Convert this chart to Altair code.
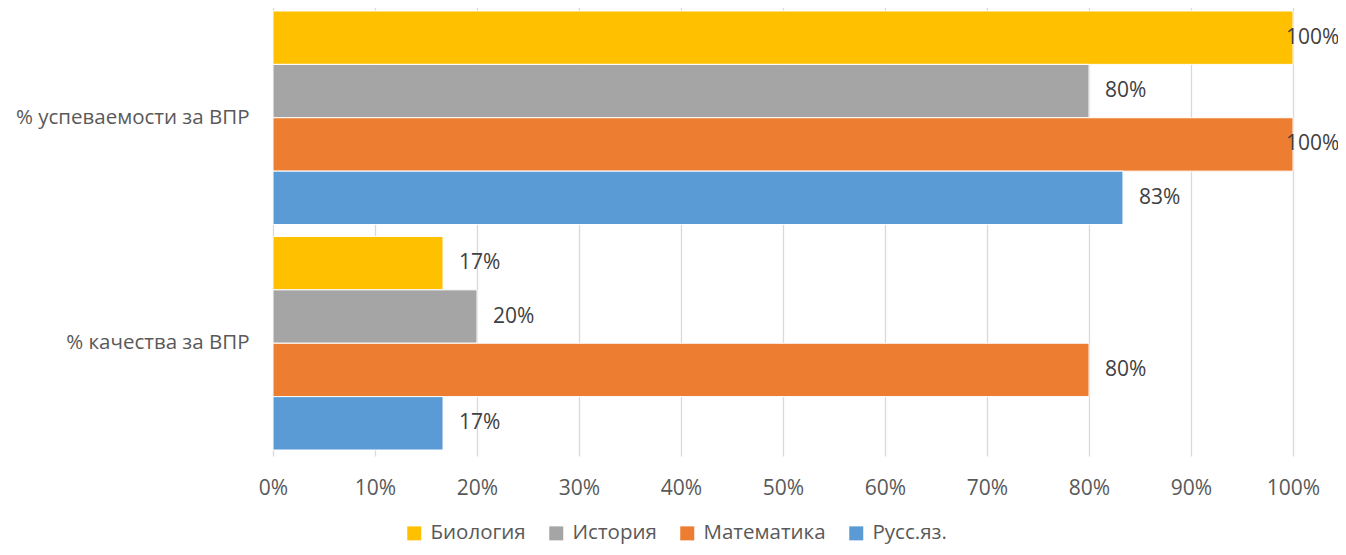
import altair as alt
import pandas as pd

categories = ["% успеваемости за ВПР", "% качества за ВПР"]
subjects = ["Биология", "История", "Математика", "Русс.яз."]
colors = ["#FFC000", "#A5A5A5", "#ED7D31", "#5B9BD5"]
values = {
    "Биология": [1.0, 0.1667],
    "История": [0.80, 0.20],
    "Математика": [1.0, 0.80],
    "Русс.яз.": [0.8333, 0.1667],
}
ticks = [0, 0.1, 0.2, 0.3, 0.4, 0.5, 0.6, 0.7, 0.8, 0.9, 1.0]

rows = []
for s in subjects:
    for c, v in zip(categories, values[s]):
        rows.append({"cat": c, "subj": s, "v": v})
df = pd.DataFrame(rows)

FONT = "Open Sans"
FS = 21

y_enc = alt.Y("cat:N", sort=categories, title=None,
              scale=alt.Scale(paddingInner=0.053, paddingOuter=0.0266),
              axis=alt.Axis(labelFontSize=20.5, labelColor="#595959", labelFont=FONT,
                            labelPadding=24, labelLimit=400, ticks=False, domain=False, grid=False))
yoff = alt.YOffset("subj:N", sort=subjects, scale=alt.Scale(paddingInner=0, paddingOuter=0))
x_enc = alt.X("v:Q", title=None,
              scale=alt.Scale(domain=[0, 1], nice=False),
              axis=alt.Axis(values=ticks, format=".0%", labelFontSize=FS, labelColor="#595959",
                            labelFont=FONT, labelPadding=21, labelFlush=False, ticks=False,
                            domain=False, grid=True, gridColor="#D9D9D9", gridWidth=1.3))

base = alt.Chart(df)

bars = base.mark_bar(stroke="white", strokeWidth=1).encode(
    x=x_enc,
    y=y_enc,
    yOffset=yoff,
    color=alt.Color("subj:N", sort=subjects,
                    scale=alt.Scale(domain=subjects, range=colors),
                    legend=alt.Legend(title=None, orient="none", direction="horizontal",
                                      legendX=131, legendY=518, symbolType="square",
                                      symbolSize=196, symbolStrokeWidth=0,
                                      labelFontSize=20.5, labelColor="#595959", labelFont=FONT,
                                      labelOffset=6, columnPadding=20)),
)

lab_small = base.transform_filter("datum.v < 0.995").mark_text(
    align="left", baseline="middle", dx=16, fontSize=FS, font=FONT, color="#404040"
).encode(x="v:Q", y=alt.Y("cat:N", sort=categories), yOffset=alt.YOffset("subj:N", sort=subjects),
         text=alt.Text("v:Q", format=".0%"))

lab_full = base.transform_filter("datum.v >= 0.995").mark_text(
    align="left", baseline="middle", dx=-7, fontSize=FS, font=FONT, color="#404040"
).encode(x="v:Q", y=alt.Y("cat:N", sort=categories), yOffset=alt.YOffset("subj:N", sort=subjects),
         text=alt.Text("v:Q", format=".0%"))

chart = alt.layer(bars, lab_small, lab_full).properties(
    width=1020, height=451,
    autosize=alt.AutoSizeParams(type="none"),
    padding={"left": 265, "top": -3, "right": 45, "bottom": 91},
).configure_view(stroke=None)

chart.save("out.html", embed_options={"renderer": "svg", "actions": False})
